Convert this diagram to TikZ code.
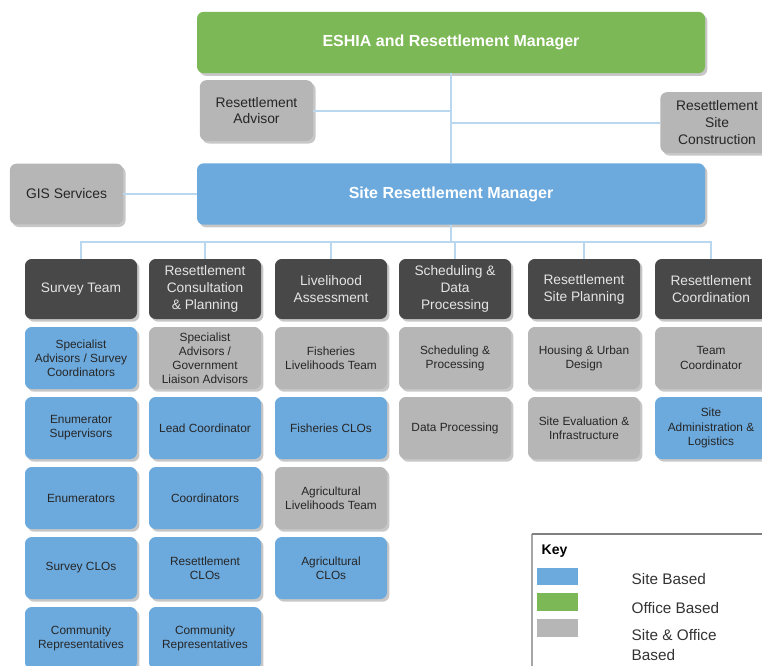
\documentclass[tikz,border=0pt]{standalone}
\usepackage{fontspec}
\setmainfont{Liberation Sans}
\usetikzlibrary{shadows}

\definecolor{sitecol}{RGB}{108,170,222}
\definecolor{officecol}{RGB}{125,184,86}
\definecolor{bothcol}{RGB}{182,182,182}
\definecolor{teamcol}{RGB}{72,72,72}
\definecolor{linkcol}{RGB}{186,215,240}

\tikzset{
  box/.style={rounded corners=5pt, align=center, inner sep=2pt,
    minimum width=84pt, minimum height=46.5pt,
    drop shadow={shadow xshift=1.8pt, shadow yshift=-2pt, fill=black!22, opacity=1},
    font=\fontsize{8.9}{10.6}\selectfont, text=black!85},
  sitebox/.style={box, fill=sitecol},
  bothbox/.style={box, fill=bothcol},
  teambox/.style={box, fill=teamcol, text=white!90!black, minimum height=45pt,
    font=\fontsize{10.3}{12.8}\selectfont},
  topbox/.style={box, fill=bothcol, minimum width=85pt, minimum height=45.5pt,
    font=\fontsize{10.4}{12.5}\selectfont},
  headbox/.style={box, text=white, minimum width=381pt, minimum height=46pt,
    font=\bfseries\fontsize{12}{14}\selectfont},
  link/.style={draw=linkcol, line width=1.5pt},
  swatch/.style={minimum width=30.75pt, minimum height=13pt, inner sep=0pt},
  keylabel/.style={anchor=west, align=left, text=black!80, font=\fontsize{11.5}{15}\selectfont},
}

\begin{document}
\begin{tikzpicture}[x=0.75pt,y=-0.75pt]
  \clip (0,0) rectangle (762,665);

  % managers and advisors
  \node[headbox, fill=officecol] (eshia) at (451,42.5) {ESHIA and Resettlement Manager};
  \node[topbox] (advisor) at (256.5,110.5) {Resettlement\\Advisor};
  \node[topbox] (sitecon) at (717,122.5) {Resettlement\\Site\\Construction};
  \node[headbox, fill=sitecol] (srm) at (451,194) {Site Resettlement Manager};
  \node[topbox] (gis) at (66.5,194) {GIS Services};

  % team heads
  \node[teambox] (survey) at (81,289) {Survey Team};
  \node[teambox] (consult) at (205,289) {Resettlement\\Consultation\\\& Planning};
  \node[teambox] (liveli) at (331,289) {Livelihood\\Assessment};
  \node[teambox] (sched) at (455,289) {Scheduling \&\\Data\\Processing};
  \node[teambox] (planning) at (584,289) {Resettlement\\Site Planning};
  \node[teambox] (coord) at (711,289) {Resettlement\\Coordination};

  % survey team
  \node[sitebox] (svspec) at (81,358) {Specialist\\Advisors / Survey\\Coordinators};
  \node[sitebox] (svsup) at (81,428) {Enumerator\\Supervisors};
  \node[sitebox] (svenum) at (81,498) {Enumerators};
  \node[sitebox] (svclo) at (81,568) {Survey CLOs};
  \node[sitebox] (svcomm) at (81,638) {Community\\Representatives};

  % consultation and planning
  \node[bothbox] (cpspec) at (205,358) {Specialist\\Advisors /\\Government\\Liaison Advisors};
  \node[sitebox] (cplead) at (205,428) {Lead Coordinator};
  \node[sitebox] (cpcoord) at (205,498) {Coordinators};
  \node[sitebox] (cpclo) at (205,568) {Resettlement\\CLOs};
  \node[sitebox] (cpcomm) at (205,638) {Community\\Representatives};

  % livelihood assessment
  \node[bothbox] (lafish) at (331,358) {Fisheries\\Livelihoods Team};
  \node[sitebox] (lafclo) at (331,428) {Fisheries CLOs};
  \node[bothbox] (laagri) at (331,498) {Agricultural\\Livelihoods Team};
  \node[sitebox] (laaclo) at (331,568) {Agricultural\\CLOs};

  % scheduling, site planning, coordination
  \node[bothbox] (sdsched) at (455,358) {Scheduling \&\\Processing};
  \node[bothbox] (sddata) at (455,428) {Data Processing};
  \node[bothbox] (sphouse) at (584,358) {Housing \& Urban\\Design};
  \node[bothbox] (speval) at (584,428) {Site Evaluation \&\\Infrastructure};
  \node[bothbox] (rcteam) at (711,358) {Team\\Coordinator};
  \node[sitebox] (rcadmin) at (711,428) {Site\\Administration \&\\Logistics};

  % connectors
  \draw[link] (eshia.south) -- (srm.north);
  \draw[link] (advisor.east) -- (advisor.east -| eshia.south);
  \draw[link] (sitecon.west) -- (sitecon.west -| eshia.south);
  \draw[link] (gis.east) -- (srm.west);
  \coordinate (fork) at (451,242);
  \draw[link] (srm.south) -- (fork);
  \draw[link] (survey.north) |- (fork) -| (coord.north);
  \foreach \t in {consult,liveli,sched,planning}
    \draw[link] (\t.north) -- (\t.north |- fork);

  % key
  \fill[white] (532,534) rectangle (770,670);
  \draw[black!35, line width=1pt] (532,670) -- (532,534);
  \draw[black!50, line width=1.5pt] (531.5,534) -- (770,534);
  \node[anchor=west, font=\bfseries\fontsize{10.5}{12}\selectfont] (keytitle) at (537,551) {Key};
  \node[swatch, fill=sitecol] (ksite) at (557.5,576.5) {};
  \node[swatch, fill=officecol] (koffice) at (557.5,602) {};
  \node[swatch, fill=bothcol] (kboth) at (557.5,628) {};
  \node[keylabel] (lsite) at (627,579) {Site Based};
  \node[keylabel] (loffice) at (627,608) {Office Based};
  \node[keylabel] (lboth) at (627,645) {Site \& Office\\Based};
\end{tikzpicture}
\end{document}
